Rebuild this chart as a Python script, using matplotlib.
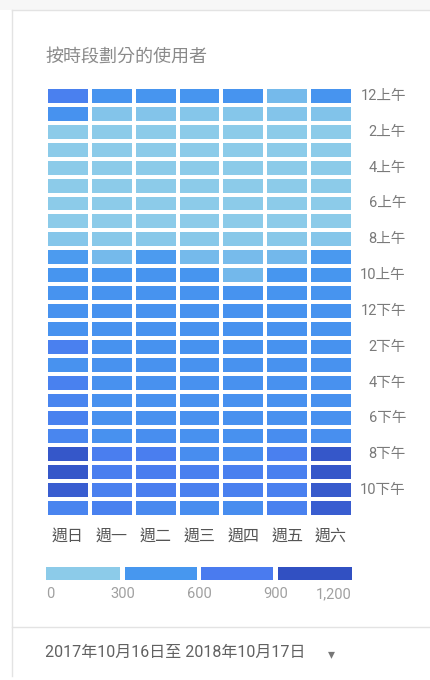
import matplotlib
matplotlib.use("Agg")
import matplotlib.pyplot as plt
import matplotlib.transforms as mtransforms
from matplotlib.colors import LinearSegmentedColormap, Normalize
from matplotlib.patches import Rectangle
import numpy as np

plt.rcParams['font.family'] = ['Roboto', 'Noto Sans CJK TC', 'DejaVu Sans']

title = "按時段劃分的使用者"
days = ["週日", "週一", "週二", "週三", "週四", "週五", "週六"]
hour_labels = ["12上午", "2上午", "4上午", "6上午", "8上午", "10上午",
               "12下午", "2下午", "4下午", "6下午", "8下午", "10下午"]
legend_ticks = [0, 300, 600, 900, 1200]
legend_tick_labels = ["0", "300", "600", "900", "1,200"]
bin_colors = ["#8ccbe9", "#4797ef", "#4a7bef", "#3150c2"]
date_range = "2017年10月16日至 2018年10月17日"

# users per hour (rows 0..23) for Sun..Sat
users = [
    [700, 480, 470, 470, 480, 250, 480],
    [500, 190, 190, 180, 180, 190, 200],
    [150, 140, 140, 140, 140, 140, 150],
    [120, 110, 110, 110, 110, 110, 120],
    [110, 100, 100, 100, 100, 100, 110],
    [100, 100, 100, 100, 100, 100, 100],
    [110, 110, 110, 110, 110, 110, 110],
    [130, 130, 130, 130, 130, 130, 130],
    [180, 170, 170, 170, 170, 170, 180],
    [430, 250, 430, 250, 240, 260, 440],
    [470, 470, 480, 470, 260, 460, 460],
    [490, 490, 490, 490, 490, 480, 480],
    [500, 500, 500, 500, 500, 490, 490],
    [500, 500, 500, 500, 500, 500, 490],
    [700, 500, 500, 500, 500, 500, 500],
    [510, 510, 510, 510, 510, 510, 510],
    [680, 520, 520, 520, 520, 520, 520],
    [640, 520, 520, 520, 520, 520, 520],
    [680, 520, 520, 520, 520, 520, 520],
    [630, 520, 540, 520, 520, 560, 530],
    [1000, 720, 720, 560, 560, 700, 1000],
    [1000, 720, 730, 700, 700, 700, 1000],
    [960, 700, 720, 700, 700, 700, 980],
    [650, 680, 600, 560, 560, 680, 960],
]

data = np.array(users, dtype=float)

cmap = LinearSegmentedColormap.from_list(
    "ga", [(0.0, bin_colors[0]), (0.125, bin_colors[0]), (0.375, bin_colors[1]),
           (0.625, bin_colors[2]), (0.875, bin_colors[3]), (1.0, bin_colors[3])])
norm = Normalize(vmin=0, vmax=1200)

W, H = 430, 680
fig = plt.figure(figsize=(W / 100, H / 100), dpi=100)
fig.patch.set_facecolor("white")

def fx(px):
    return px / W

def fy(py):
    return 1 - py / H

# card frame
fig.add_artist(plt.Rectangle((0, fy(10)), 1, 10 / H, transform=fig.transFigure,
                             facecolor="#f7f7f7", edgecolor="none"))
fig.add_artist(plt.Line2D([fx(12), 1], [fy(10), fy(10)], color="#e3e3e3", lw=1))
fig.add_artist(plt.Line2D([fx(12), fx(12)], [fy(10), fy(676)], color="#e3e3e3", lw=1))
fig.add_artist(plt.Line2D([fx(12), 1], [fy(627), fy(627)], color="#e3e3e3", lw=1))

fig.text(fx(45), fy(57), title, fontsize=13, color="#8a8a8a", va="center", ha="left")

ax = fig.add_axes([fx(46), fy(517), fx(353 - 46), (517 - 87) / H])
ax.pcolormesh(np.arange(8), np.arange(25), data, cmap=cmap, norm=norm,
              edgecolors="white", linewidth=2.8)
ax.set_xlim(0, 7)
ax.set_ylim(24, 0)
ax.axis("off")

trans = mtransforms.blended_transform_factory(fig.transFigure, ax.transData)
for i, lab in enumerate(hour_labels):
    fig.text(fx(406), 2 * i + 0.5, lab, transform=trans, fontsize=10.5, color="#7a7a7a",
             ha="right", va="center")

trans_x = mtransforms.blended_transform_factory(ax.transData, fig.transFigure)
for j, d in enumerate(days):
    fig.text(j + 0.5, fy(536), d, transform=trans_x, fontsize=11.5, color="#555555",
             ha="center", va="center")

# legend
lax = fig.add_axes([fx(46), fy(580), fx(352 - 46), 13 / H])
for k, c in enumerate(bin_colors):
    x0 = legend_ticks[k] + (8 if k > 0 else 0)
    x1 = legend_ticks[k + 1] - (8 if k < 3 else 0)
    lax.add_patch(Rectangle((x0, 0), x1 - x0, 1, facecolor=c, edgecolor="none"))
lax.set_xlim(0, 1200)
lax.set_ylim(0, 1)
lax.axis("off")
trans_l = mtransforms.blended_transform_factory(lax.transData, fig.transFigure)
for k, (t, lab) in enumerate(zip(legend_ticks, legend_tick_labels)):
    ha = "left" if k == 0 else ("right" if k == len(legend_ticks) - 1 else "center")
    fig.text(t, fy(598), lab, transform=trans_l, fontsize=10.5,
             color="#a0a0a0", ha=ha, va="baseline")

fig.text(fx(45), fy(652), date_range, fontsize=11.5, color="#616161", ha="left", va="center")
fig.text(fx(328), fy(654), "▾", fontsize=10, color="#777777", ha="left", va="center",
         family=["DejaVu Sans"])

fig.savefig("out.png", dpi=100, facecolor="white")
